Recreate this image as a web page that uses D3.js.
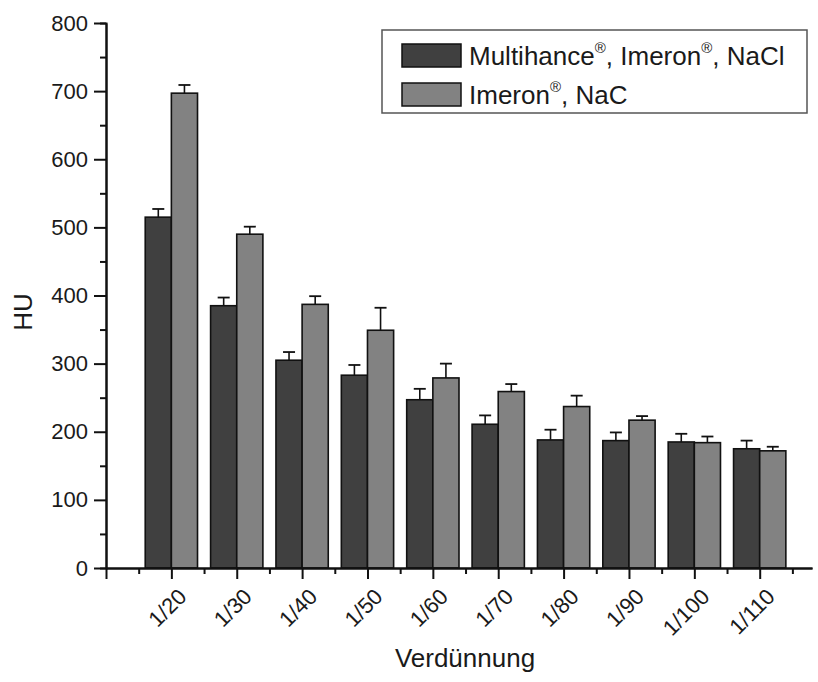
<!DOCTYPE html>
<html>
<head>
<meta charset="utf-8">
<script src="https://cdn.jsdelivr.net/npm/d3@7"></script>
<style>
  body { margin: 0; background: #fff; }
  text { font-family: "Liberation Sans", Arial, sans-serif; fill: #1a1a1a; }
</style>
</head>
<body>
<script>
// values
var categories = ["1/20", "1/30", "1/40", "1/50", "1/60", "1/70", "1/80", "1/90", "1/100", "1/110"];
var multihance = [515, 385, 305, 283, 247, 211, 188, 187, 185, 175];
var multihanceErr = [12, 12, 12, 15, 16, 13, 15, 12, 12, 12];
var imeron = [697, 490, 387, 349, 279, 259, 237, 217, 184, 172];
var imeronErr = [12, 11, 12, 33, 21, 11, 16, 6, 9, 6];
var yTicks = [0, 100, 200, 300, 400, 500, 600, 700, 800];

var svg = d3.select("body")
   .append("svg")
   .attr("width", 818)
   .attr("height", 682);

var xScale = d3.scaleLinear()
   .domain([0, 10.8])
   .range([106, 812]);

var yScale = d3.scaleLinear()
   .domain([0, 800])
   .range([568, 23]);

var barW = xScale(0.4) - xScale(0);

var series = [
  {vals: multihance, err: multihanceErr, fill: "#404040", off: -1},
  {vals: imeron, err: imeronErr, fill: "#828282", off: 0}
];

// bars
series.forEach(function(s){
    var g = svg.append("g");
    g.selectAll("rect")
       .data(s.vals)
       .enter()
       .append("rect")
       .attr("x", function(d, i){ return xScale(i + 1) + s.off * barW; })
       .attr("y", function(d){ return yScale(d); })
       .attr("width", barW)
       .attr("height", function(d){ return yScale(0) - yScale(d); })
       .attr("fill", s.fill)
       .attr("stroke", "#111")
       .attr("stroke-width", 1.6);

    // error bars, only upper part
    var cx = function(i){ return xScale(i + 1) + s.off * barW + barW / 2; };
    g.selectAll("line.err")
       .data(s.vals)
       .enter()
       .append("line")
       .attr("x1", function(d, i){ return cx(i); })
       .attr("x2", function(d, i){ return cx(i); })
       .attr("y1", function(d){ return yScale(d); })
       .attr("y2", function(d, i){ return yScale(d + s.err[i]); })
       .attr("stroke", "#111")
       .attr("stroke-width", 1.6);
    g.selectAll("line.cap")
       .data(s.vals)
       .enter()
       .append("line")
       .attr("x1", function(d, i){ return cx(i) - 6; })
       .attr("x2", function(d, i){ return cx(i) + 6; })
       .attr("y1", function(d, i){ return yScale(d + s.err[i]); })
       .attr("y2", function(d, i){ return yScale(d + s.err[i]); })
       .attr("stroke", "#111")
       .attr("stroke-width", 1.8);
});

// y axis
var yAxis = d3.axisLeft(yScale).tickValues(yTicks).tickSize(12).tickSizeOuter(0).tickPadding(6);
var yMinor = d3.axisLeft(yScale).tickValues(d3.range(50, 800, 100)).tickSize(6).tickFormat("");
svg.append("g").attr("class", "axis").attr("transform", "translate(106,0)").call(yAxis);
svg.append("g").attr("class", "axis").attr("transform", "translate(106,0)").call(yMinor);

// x axis
var xAxis = d3.axisBottom(xScale)
   .tickValues(d3.range(0, 11))
   .tickSize(11)
   .tickSizeOuter(0)
   .tickFormat(function(d){ return d === 0 ? "" : categories[d - 1]; });
var xMinor = d3.axisBottom(xScale).tickValues(d3.range(0.5, 11, 1)).tickSize(6).tickFormat("").tickSizeOuter(0);
var gx = svg.append("g").attr("class", "axis").attr("transform", "translate(0,568)").call(xAxis);
svg.append("g").attr("class", "axis").attr("transform", "translate(0,568)").call(xMinor);

svg.selectAll(".axis path, .axis line").attr("stroke", "#111").attr("stroke-width", 2);
svg.selectAll(".axis text").style("font-size", "22px").attr("fill", "#1a1a1a");

gx.selectAll(".tick text")
   .attr("text-anchor", "end")
   .attr("y", 0)
   .attr("dy", 0)
   .attr("transform", "translate(16,30) rotate(-45)");

// axis titles
svg.append("text").text("HU")
   .attr("transform", "translate(32,312) rotate(-90)")
   .attr("text-anchor", "middle")
   .style("font-size", "26px");
svg.append("text").text("Verdünnung")
   .attr("x", 465).attr("y", 667)
   .attr("text-anchor", "middle")
   .style("font-size", "26px");

// legend
var legend = svg.append("g");
legend.append("rect")
   .attr("x", 382).attr("y", 30).attr("width", 425).attr("height", 83)
   .attr("fill", "#fff").attr("stroke", "#555").attr("stroke-width", 1.5);

var legendItems = [
  {parts: [["Multihance", 0], ["®", 1], [", Imeron", 0], ["®", 1], [", NaCl", 0]], fill: "#404040"},
  {parts: [["Imeron", 0], ["®", 1], [", NaC", 0]], fill: "#828282"}
];
legendItems.forEach(function(item, i){
    var y0 = 44 + i * 39;
    legend.append("rect")
       .attr("x", 402).attr("y", y0).attr("width", 59).attr("height", 23)
       .attr("fill", item.fill).attr("stroke", "#111").attr("stroke-width", 1.5);
    var t = legend.append("text")
       .attr("x", 469).attr("y", y0 + 21)
       .style("font-size", "26px");
    item.parts.forEach(function(p){
        var ts = t.append("tspan").text(p[0]);
        if (p[1]) ts.style("font-size", "15px").attr("dy", -12);
        else ts.attr("dy", t.selectAll("tspan").size() > 1 ? 12 : 0);
    });
});
</script>
</body>
</html>
